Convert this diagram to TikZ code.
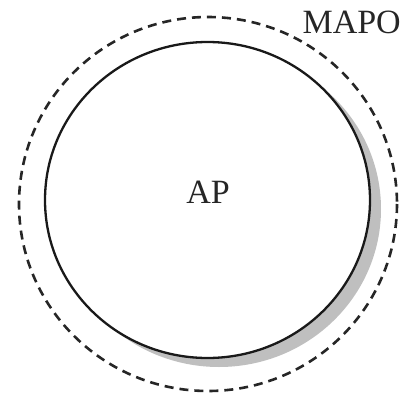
\documentclass[tikz,border=0pt]{standalone}
\usepackage{fontspec}
\setmainfont{Liberation Serif}
\begin{document}
\begin{tikzpicture}[x=1pt,y=-1pt,
  outer/.style={draw=black!85, line width=2.6pt, dash pattern=on 9pt off 6pt},
  inner/.style={draw=black!90, line width=2.3pt, fill=white},
  shade/.style={fill=black!25, draw=none},
  lbl/.style={font=\fontsize{34}{36}\selectfont, text=black!85, inner sep=0pt}]
\useasboundingbox (0,0) rectangle (405,394);
\draw[outer] (208,204) ellipse [x radius=189, y radius=187];
\fill[shade] (219,209) ellipse [x radius=162, y radius=158];
\draw[inner] (207.5,200) ellipse [x radius=162.5, y radius=158];
\node[lbl, anchor=base] (ap) at (208,203) {AP};
\node[lbl, anchor=base east] (mapo) at (401,33) {MAPO};
\end{tikzpicture}
\end{document}
